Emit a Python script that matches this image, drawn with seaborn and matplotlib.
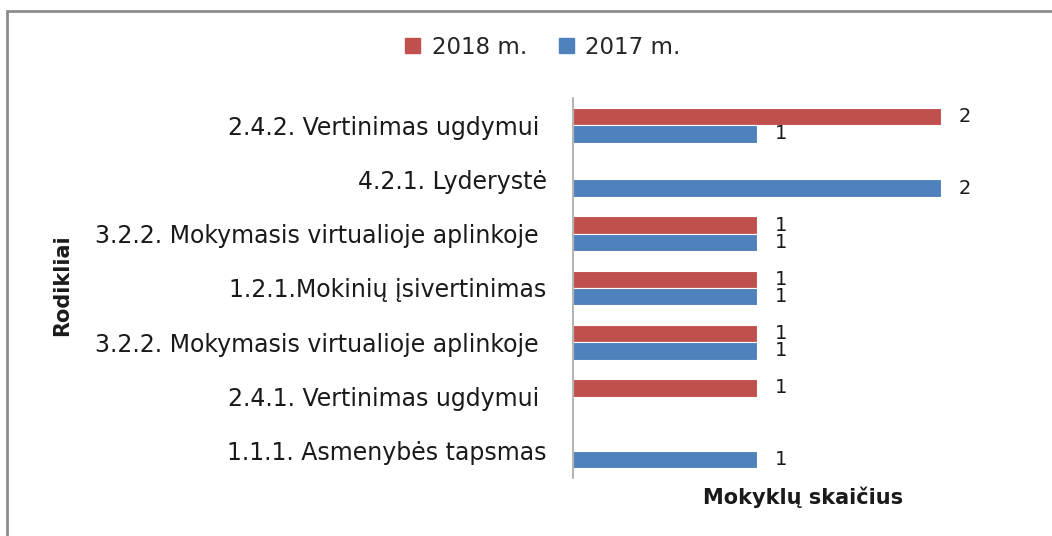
import matplotlib
matplotlib.use("Agg")
import matplotlib.pyplot as plt
import seaborn as sns
import pandas as pd
import numpy as np
from matplotlib.patches import Rectangle

categories = [
    "2.4.2. Vertinimas ugdymui ",
    "4.2.1. Lyderystė",
    "3.2.2. Mokymasis virtualioje aplinkoje ",
    "1.2.1.Mokinių įsivertinimas",
    "3.2.2. Mokymasis virtualioje aplinkoje ",
    "2.4.1. Vertinimas ugdymui ",
    "1.1.1. Asmenybės tapsmas",
]
values_2018 = [2, None, 1, 1, 1, 1, None]
values_2017 = [1, 2, 1, 1, 1, None, 1]
series_names = ["2018 m.", "2017 m."]
colors = ["#C0504D", "#4F81BD"]

rows = []
for i, cat in enumerate(categories):
    for name, vals in zip(series_names, [values_2018, values_2017]):
        if vals[i] is not None:
            rows.append({"key": f"c{i}", "series": name, "value": vals[i]})
df = pd.DataFrame(rows)
keys = [f"c{i}" for i in range(len(categories))]

sns.set_theme(style="white")
plt.rcParams["font.family"] = ["DejaVu Sans"]

fig = plt.figure(figsize=(10.52, 5.36), dpi=100)
ax = fig.add_axes([573/1052, 1-478/536, (1033-573)/1052, (478-98)/536])

sns.barplot(data=df, y="key", x="value", hue="series", order=keys,
            hue_order=series_names, palette=colors, saturation=1, orient="h",
            width=0.64, edgecolor="white", linewidth=0.8, ax=ax,
            legend=True, errorbar=None)

for cont in ax.containers:
    ax.bar_label(cont, labels=[f"{v:g}" if v > 0 else "" for v in cont.datavalues],
                 padding=13, fontsize=14, color="#1a1a1a")

ax.set_xlim(0, 2.5)
ax.set_ylim(6.5, -0.5)
ax.set_yticks(range(len(categories)))
ax.set_yticklabels(categories, fontsize=17, color="#1a1a1a")
ax.tick_params(axis="y", length=0, pad=19)
ax.set_xticks([])
ax.set_ylabel("")
ax.set_xlabel("")
for s in ["top", "right", "bottom"]:
    ax.spines[s].set_visible(False)
ax.spines["left"].set_color("#a6a6a6")
ax.spines["left"].set_linewidth(1.2)

fig.text(803/1052, 1-497/536, "Mokyklų skaičius", ha="center", va="center",
         fontsize=15, fontweight="bold", color="#1a1a1a")
fig.text(62/1052, 1-285/536, "Rodikliai", ha="center", va="center",
         rotation=90, fontsize=15, fontweight="bold", color="#1a1a1a")

ax.get_legend().remove()
handles = [Rectangle((0, 0), 1, 1, color=c) for c in colors]
fig.legend(handles, series_names, loc="center", bbox_to_anchor=(543/1052, 1-47/536),
           ncol=2, frameon=False, fontsize=16.5, handlelength=0.65, handleheight=0.65,
           handletextpad=0.5, columnspacing=1.4)

fig.patches.append(Rectangle((7/1052, -0.05), 1.1, 1-11/536+0.05,
                             transform=fig.transFigure, fill=False,
                             edgecolor="#8c8c8c", linewidth=2, figure=fig))

fig.savefig("out.png", dpi=100)
